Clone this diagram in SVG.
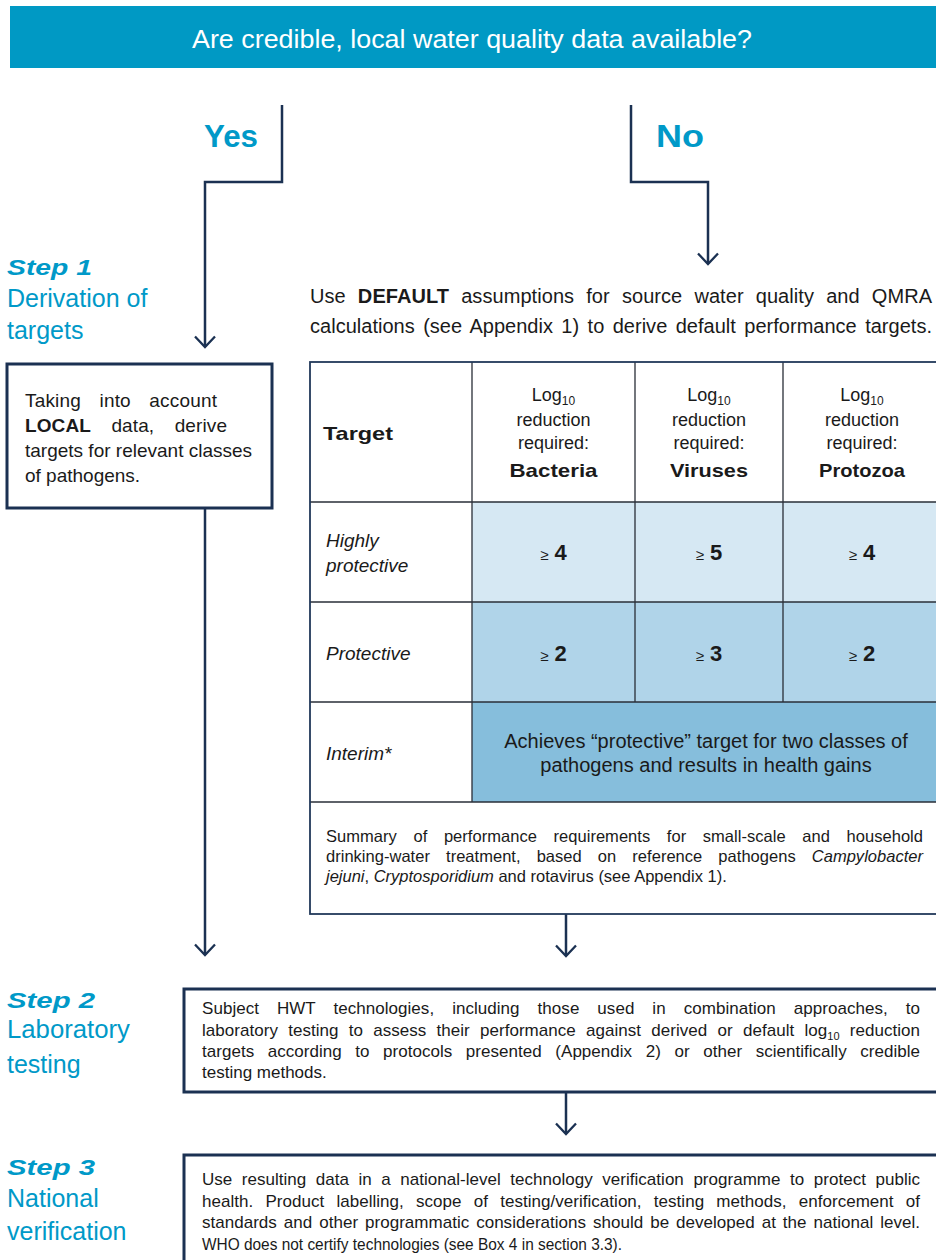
<svg xmlns="http://www.w3.org/2000/svg" width="936" height="1260" viewBox="0 0 936 1260">
<style>
text{font-family:"Liberation Sans",Arial,sans-serif;fill:#1a1a1a}
.hdr{fill:#ffffff;font-size:25px}
.yn{font-size:32px;font-weight:bold;fill:#0099c8}
.step{font-size:22px;font-weight:bold;font-style:italic;fill:#0099c8}
.lab{font-size:25px;fill:#0099c8}
.box{fill:#ffffff;stroke:#1b3152;stroke-width:3}
.conn{fill:none;stroke:#1b3152;stroke-width:2.5}
.grid{stroke:#2a2f38;stroke-width:1.3;fill:none}
.b1{font-size:19px}
.th{font-size:18px}
.thb{font-size:19px;font-weight:bold}
.it{font-size:19px;font-style:italic}
.num{font-size:22px;font-weight:bold}
.ge{font-size:15px;font-weight:normal}
.sm{font-size:16.5px}
.st{font-size:17px}
</style>
<defs>
<marker id="ah" viewBox="-13 -12 16 24" refX="0" refY="0" markerWidth="16" markerHeight="24" markerUnits="userSpaceOnUse" orient="auto">
<path d="M-10.5,-10 L0,0 L-10.5,10" fill="none" stroke="#1b3152" stroke-width="2.3"/>
</marker>
</defs>
<rect width="936" height="1260" fill="#ffffff"/>

<g id="question">
<rect x="10" y="6" width="930" height="62" fill="#0099c4"/>
<text class="hdr" x="472" y="48" text-anchor="middle" textLength="560" lengthAdjust="spacingAndGlyphs">Are credible, local water quality data available?</text>
</g>

<g id="labels">
<text class="yn" x="204" y="147" textLength="54" lengthAdjust="spacingAndGlyphs">Yes</text>
<text class="yn" x="656" y="147" textLength="48" lengthAdjust="spacingAndGlyphs">No</text>
</g>

<g id="connectors">
<path class="conn" d="M282,105 V182 H205 V347" marker-end="url(#ah)"/>
<path class="conn" d="M631,105 V182 H708 V264" marker-end="url(#ah)"/>
<path class="conn" d="M205,508 V955" marker-end="url(#ah)"/>
<path class="conn" d="M566,914 V956" marker-end="url(#ah)"/>
<path class="conn" d="M566,1092 V1134" marker-end="url(#ah)"/>
</g>

<g id="step1-label">
<text class="step" x="7" y="275" textLength="85" lengthAdjust="spacingAndGlyphs">Step 1</text>
<text class="lab" x="7" y="307">Derivation of</text>
<text class="lab" x="7" y="339">targets</text>
</g>

<g id="local-box">
<rect class="box" x="7" y="364" width="265" height="144"/>
<text class="b1" x="25" y="407" word-spacing="13" textLength="192" lengthAdjust="spacing">Taking into account</text>
<text class="b1" x="25" y="432" word-spacing="15" textLength="202" lengthAdjust="spacing"><tspan font-weight="bold">LOCAL</tspan> data, derive</text>
<text class="b1" x="25" y="457">targets for relevant classes</text>
<text class="b1" x="25" y="482">of pathogens.</text>
</g>

<g id="default-text">
<text font-size="20" x="310" y="303" word-spacing="6.5" textLength="622" lengthAdjust="spacing">Use <tspan font-weight="bold">DEFAULT</tspan> assumptions for source water quality and QMRA</text>
<text font-size="20" x="310" y="333" word-spacing="2.8" textLength="622" lengthAdjust="spacing">calculations (see Appendix 1) to derive default performance targets.</text>
</g>

<g id="default-table">
<rect x="472" y="502" width="470" height="100" fill="#d6e8f3"/>
<rect x="472" y="602" width="470" height="100" fill="#b0d4e9"/>
<rect x="472" y="702" width="470" height="100" fill="#86bedc"/>
<path class="grid" d="M310,502 H942 M310,602 H942 M310,702 H942 M310,802 H942 M472,362 V802 M635,362 V702 M783,362 V702"/>
<rect x="310" y="362" width="632" height="552" fill="none" stroke="#22395a" stroke-width="1.8"/>

<text class="thb" x="323" y="440" textLength="70" lengthAdjust="spacingAndGlyphs">Target</text>

<text class="th" x="553.5" y="401" text-anchor="middle">Log<tspan font-size="12" dy="4">10</tspan></text>
<text class="th" x="553.5" y="426" text-anchor="middle">reduction</text>
<text class="th" x="553.5" y="449" text-anchor="middle">required:</text>
<text class="thb" x="553.5" y="477" text-anchor="middle" textLength="88" lengthAdjust="spacingAndGlyphs">Bacteria</text>

<text class="th" x="709" y="401" text-anchor="middle">Log<tspan font-size="12" dy="4">10</tspan></text>
<text class="th" x="709" y="426" text-anchor="middle">reduction</text>
<text class="th" x="709" y="449" text-anchor="middle">required:</text>
<text class="thb" x="709" y="477" text-anchor="middle" textLength="78" lengthAdjust="spacingAndGlyphs">Viruses</text>

<text class="th" x="862" y="401" text-anchor="middle">Log<tspan font-size="12" dy="4">10</tspan></text>
<text class="th" x="862" y="426" text-anchor="middle">reduction</text>
<text class="th" x="862" y="449" text-anchor="middle">required:</text>
<text class="thb" x="862" y="477" text-anchor="middle" textLength="86" lengthAdjust="spacingAndGlyphs">Protozoa</text>

<text class="it" x="326" y="547">Highly</text>
<text class="it" x="326" y="572">protective</text>
<text class="num" x="553.5" y="560" text-anchor="middle"><tspan class="ge">≥</tspan><tspan dx="6">4</tspan></text>
<text class="num" x="709" y="560" text-anchor="middle"><tspan class="ge">≥</tspan><tspan dx="6">5</tspan></text>
<text class="num" x="862" y="560" text-anchor="middle"><tspan class="ge">≥</tspan><tspan dx="6">4</tspan></text>

<text class="it" x="326" y="660">Protective</text>
<text class="num" x="553.5" y="661" text-anchor="middle"><tspan class="ge">≥</tspan><tspan dx="6">2</tspan></text>
<text class="num" x="709" y="661" text-anchor="middle"><tspan class="ge">≥</tspan><tspan dx="6">3</tspan></text>
<text class="num" x="862" y="661" text-anchor="middle"><tspan class="ge">≥</tspan><tspan dx="6">2</tspan></text>

<text class="it" x="326" y="760">Interim*</text>
<text font-size="20" x="706" y="748" text-anchor="middle">Achieves “protective” target for two classes of</text>
<text font-size="20" x="706" y="772" text-anchor="middle">pathogens and results in health gains</text>

<text class="sm" x="326" y="842" word-spacing="12" textLength="597" lengthAdjust="spacing">Summary of performance requirements for small-scale and household</text>
<text class="sm" x="326" y="862" word-spacing="11.5" textLength="597" lengthAdjust="spacing">drinking-water treatment, based on reference pathogens <tspan font-style="italic">Campylobacter</tspan></text>
<text class="sm" x="326" y="882"><tspan font-style="italic">jejuni</tspan>, <tspan font-style="italic">Cryptosporidium</tspan> and rotavirus (see Appendix 1).</text>
</g>

<g id="step2-label">
<text class="step" x="7" y="1008" textLength="88" lengthAdjust="spacingAndGlyphs">Step 2</text>
<text class="lab" x="7" y="1038" textLength="123" lengthAdjust="spacingAndGlyphs">Laboratory</text>
<text class="lab" x="7" y="1073">testing</text>
</g>

<g id="step2-box">
<rect class="box" x="184" y="989" width="760" height="103"/>
<text class="st" x="202" y="1014" word-spacing="13.2" textLength="718" lengthAdjust="spacing">Subject HWT technologies, including those used in combination approaches, to</text>
<text class="st" x="202" y="1036" word-spacing="5.4" textLength="718" lengthAdjust="spacing">laboratory testing to assess their performance against derived or default log<tspan font-size="11" dy="4">10</tspan><tspan dy="-4"> reduction</tspan></text>
<text class="st" x="202" y="1057" word-spacing="8.8" textLength="718" lengthAdjust="spacing">targets according to protocols presented (Appendix 2) or other scientifically credible</text>
<text class="st" x="202" y="1078">testing methods.</text>
</g>

<g id="step3-label">
<text class="step" x="7" y="1175" textLength="88" lengthAdjust="spacingAndGlyphs">Step 3</text>
<text class="lab" x="7" y="1207">National</text>
<text class="lab" x="7" y="1240">verification</text>
</g>

<g id="step3-box">
<rect class="box" x="184" y="1155" width="760" height="120"/>
<text class="st" x="202" y="1185" word-spacing="4.8" textLength="718" lengthAdjust="spacing">Use resulting data in a national-level technology verification programme to protect public</text>
<text class="st" x="202" y="1207" word-spacing="7.5" textLength="718" lengthAdjust="spacing">health. Product labelling, scope of testing/verification, testing methods, enforcement of</text>
<text class="st" x="202" y="1228" word-spacing="2.2" textLength="718" lengthAdjust="spacing">standards and other programmatic considerations should be developed at the national level.</text>
<text class="st" x="202" y="1250" textLength="420" lengthAdjust="spacingAndGlyphs">WHO does not certify technologies (see Box 4 in section 3.3).</text>
</g>
</svg>
